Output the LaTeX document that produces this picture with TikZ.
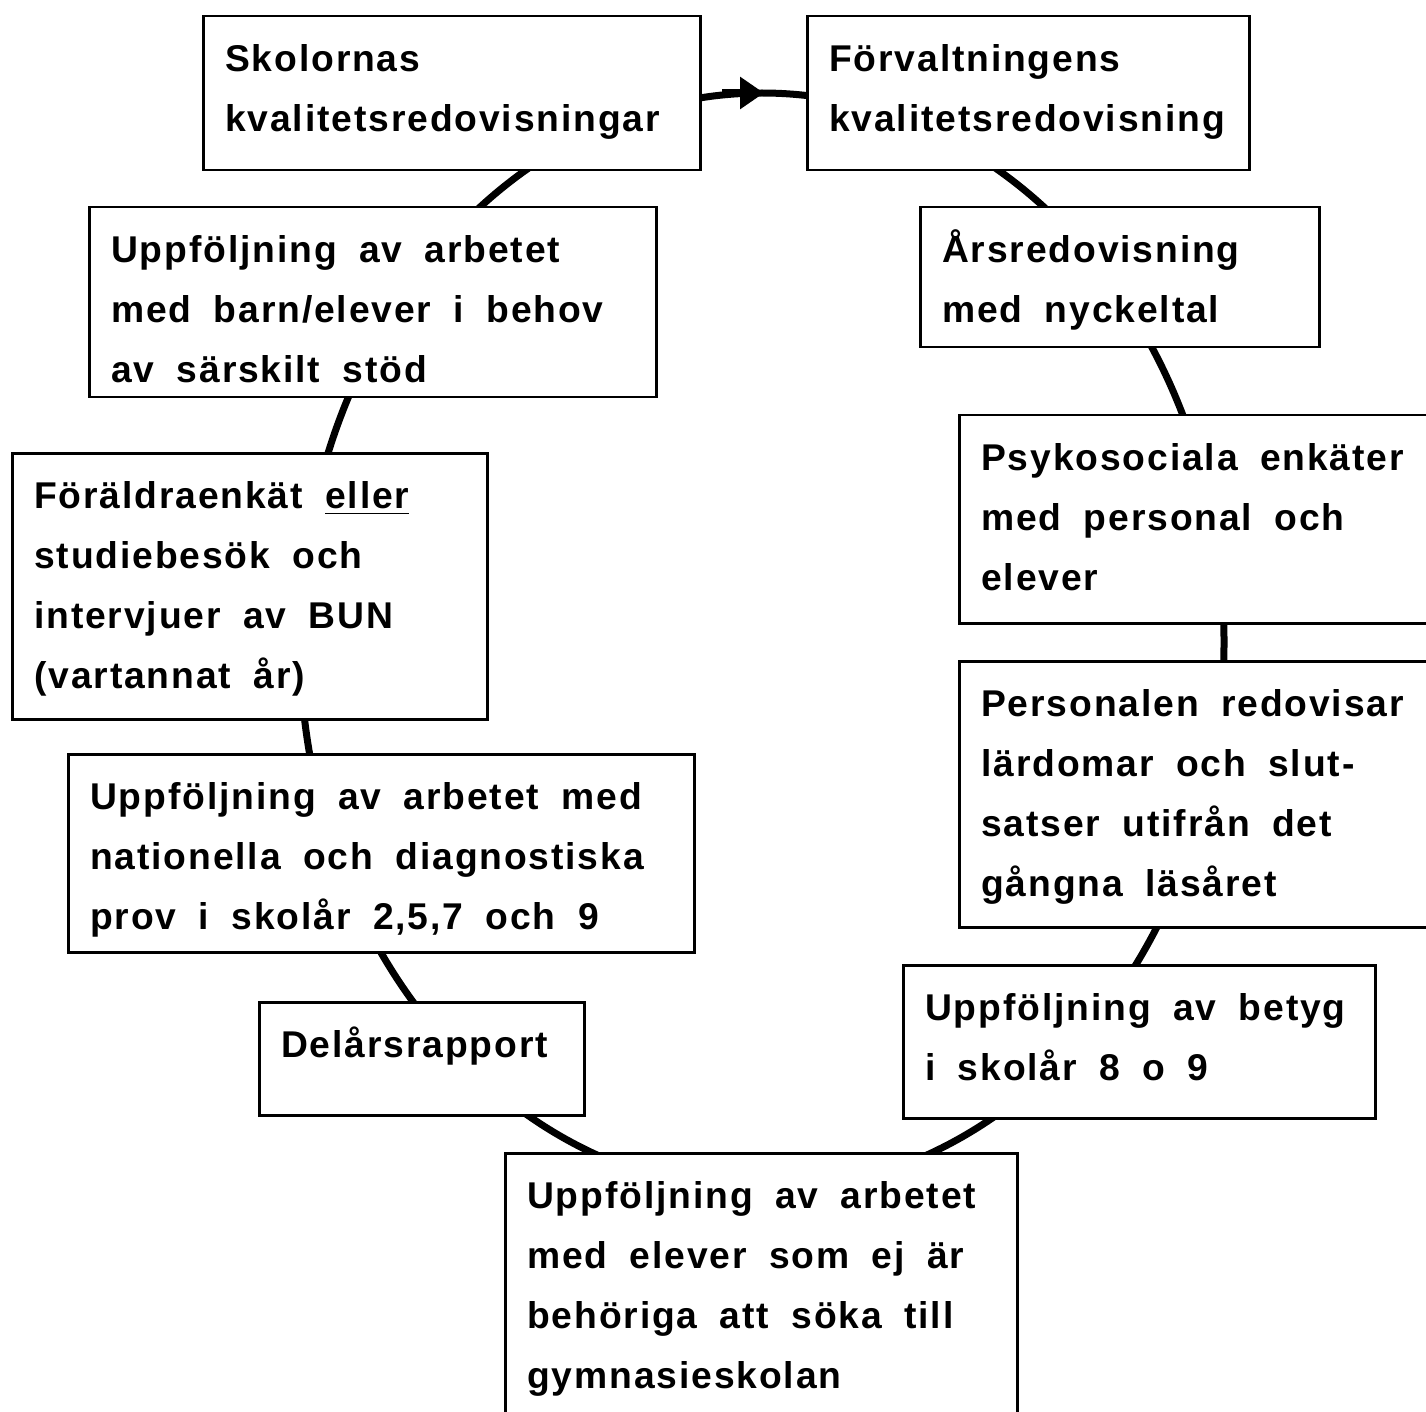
\documentclass[tikz,border=0pt]{standalone}
\usepackage{fontspec}
\setmainfont{Liberation Sans}[LetterSpace=5]
\usepackage{tikz}
\usetikzlibrary{shapes.geometric, arrows.meta}
\hyphenpenalty=10000
\exhyphenpenalty=10000
\newcommand{\widespaces}{\spaceskip=0.6em plus 0.1em\relax\xspaceskip=\spaceskip}

\begin{document}
\begin{tikzpicture}[x=0.1mm, y=-0.1mm,
        box/.style={draw, fill=white, line width=0.25mm,
            anchor=north west,
            inner xsep=2.2mm, inner ysep=0pt, text height=5.5mm,
            font=\bfseries\fontsize{10.6}{17.07}\selectfont,
            execute at begin node=\widespaces},
        ring/.style={line width=0.7mm}]
        \path[use as bounding box, fill=white] (0,0) rectangle (1426,1411);

        % cycle
        \node [draw, ring, ellipse,
            inner sep=0pt, outer sep=0pt,
            minimum width=92.4mm,
            minimum height=109.8mm,
        ] (cycle) at (762,642) {};
        \draw[ring, -{Triangle[length=2.4mm, width=3.1mm]}]
            ([xshift=-4mm]cycle.north) -- ([xshift=0.2mm]cycle.north);

        % skolor
        \node [box,
            text width=45.3mm,
            text depth=9.9mm,
        ] (skolor) at (202,15) {Skolornas\\kvalitetsredovisningar};

        % forvaltning
        \node [box,
            text width=39.8mm,
            text depth=9.9mm,
        ] (forvaltning) at (806,15) {Förvaltningens\\kvalitetsredovisning};

        % arsred
        \node [box,
            text width=35.5mm,
            text depth=8.5mm,
        ] (arsred) at (919,206) {Årsredovisning\\med nyckeltal};

        % psykosocial
        \node [box,
            text width=45.8mm,
            text depth=15.3mm,
        ] (psykosocial) at (958,414) {Psykosociala enkäter\\med personal och\\elever};

        % personal
        \node [box,
            text width=45.8mm,
            text depth=21.1mm,
        ] (personal) at (958,660) {Personalen redovisar\\lärdomar och slut-\\satser utifrån det\\gångna läsåret};

        % betyg
        \node [box,
            text width=42.8mm,
            text depth=9.8mm,
        ] (betyg) at (902,964) {Uppföljning av betyg\\i skolår 8 o 9};

        % gymnasium
        \node [box,
            text width=46.8mm,
            text depth=23.3mm,
        ] (gymnasium) at (504,1152) {Uppföljning av arbetet\\med elever som ej är\\behöriga att söka till\\gymnasieskolan};

        % delar
        \node [box,
            text width=28.1mm,
            text depth=5.8mm,
        ] (delar) at (258,1001) {Delårsrapport};

        % nationella
        \node [box,
            text width=58.2mm,
            text depth=14.3mm,
        ] (nationella) at (67,753) {Uppföljning av arbetet med\\nationella och diagnostiska\\prov i skolår 2,5,7 och 9};

        % foralder
        \node [box,
            text width=43.1mm,
            text depth=21.1mm,
        ] (foralder) at (11,452) {Föräldraenkät \underline{eller}\\studiebesök och\\intervjuer av BUN\\(vartannat år)};

        % stod
        \node [box,
            text width=52.3mm,
            text depth=13.5mm,
        ] (stod) at (88,206) {Uppföljning av arbetet\\med barn/elever i behov\\av särskilt stöd};
\end{tikzpicture}
\end{document}
